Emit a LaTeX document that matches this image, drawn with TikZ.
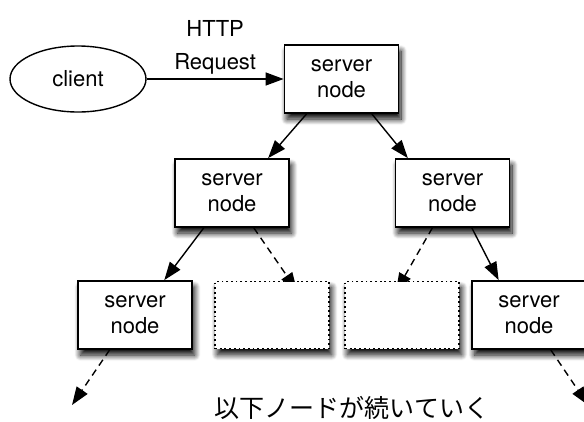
\documentclass[tikz,border=0pt]{standalone}
\usepackage{fontspec}
\setmainfont{TeX Gyre Heros}
\newfontfamily\jpfont{Noto Sans CJK JP}
\usetikzlibrary{shapes.geometric,arrows.meta,shadows.blur,backgrounds}
\begin{document}
\begin{tikzpicture}[x=1pt,y=-1pt,
  every node/.style={font=\fontsize{22}{26}\selectfont},
  shad/.style={blur shadow={shadow xshift=2.5pt, shadow yshift=-6pt, shadow blur radius=6pt, shadow blur steps=12, shadow opacity=100}},
  sbox/.style={draw, line width=1.8pt, fill=white, minimum width=114pt, minimum height=68pt, inner sep=0pt, align=center, shad},
  dbox/.style={draw, line width=1.6pt, dash pattern=on 1.8pt off 2.9pt, fill=white, minimum width=114pt, minimum height=67pt, inner sep=0pt, shad},
  cl/.style={draw, ellipse, line width=1.4pt, minimum width=136pt, minimum height=66pt, inner sep=0pt},
  arr/.style={line width=1.4pt, -{Triangle[length=18pt,width=13pt]}},
  darr/.style={arr, dash pattern=on 7pt off 5pt},
]
\useasboundingbox (0,0) rectangle (584,421);
\node[cl] (client) at (78,79) {client};
\node[sbox] (top) at (341.5,79) {server\\node};
\node[sbox] (ml) at (232,193) {server\\node};
\node[sbox] (mr) at (452.5,193) {server\\node};
\node[sbox] (b1) at (135,315) {server\\node};
\node[dbox] (b2) at (272,315) {};
\node[dbox] (b3) at (402,315) {};
\node[sbox] (b4) at (529,315) {server\\node};
\coordinate (e1) at (72,405);
\coordinate (e2) at (588,405);

\draw[arr] (client.east) -- node[above, align=center, inner sep=4pt, font=\fontsize{22}{33}\selectfont] (lbl) {HTTP\\Request} (top.west);
\draw[arr] (top.-135) -- (ml.44);
\draw[arr] (top.-49) -- (mr.142);
\draw[arr] (ml.-129) -- (b1.50);
\draw[arr] (mr.-61) -- (b4.131);
\begin{pgfonlayer}{background}
\draw[darr, shorten >=-12pt] (ml.-58) -- (b2.62);
\draw[darr, shorten >=-12pt] (mr.-120) -- (b3.north);
\end{pgfonlayer}
\draw[darr] (b1.-126) -- (e1);
\draw[darr] (b4.-58) -- (e2);

\node[font=\jpfont\fontsize{25}{30}\selectfont] (more) at (352,408) {以下ノードが続いていく};
\end{tikzpicture}
\end{document}
